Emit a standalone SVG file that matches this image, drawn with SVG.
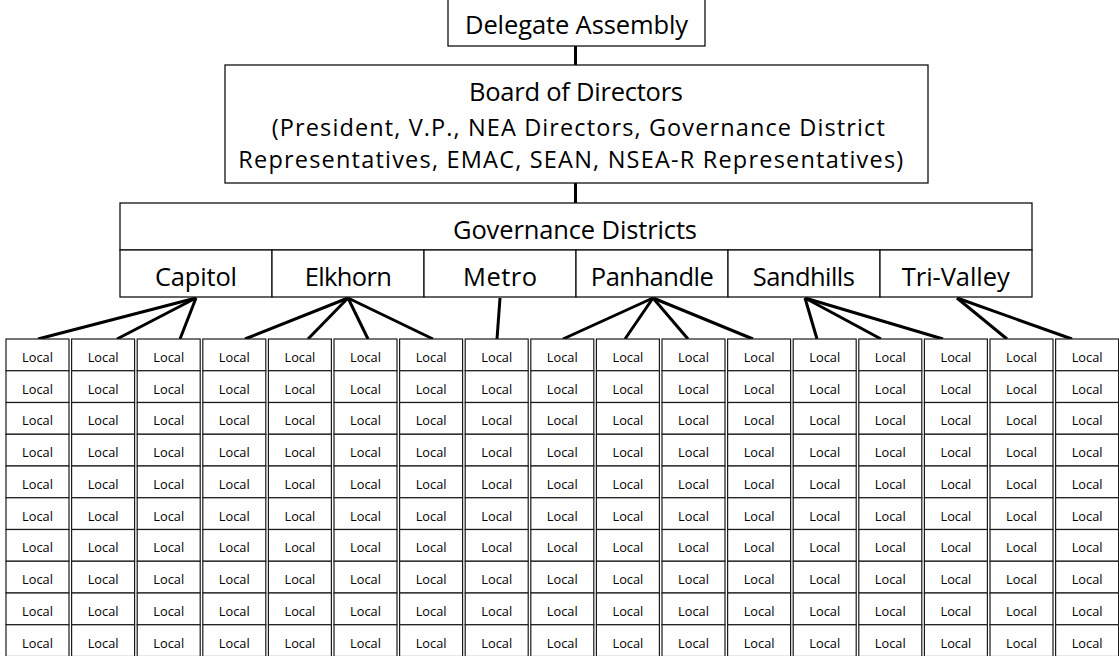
<svg xmlns="http://www.w3.org/2000/svg" width="1119" height="656" viewBox="0 0 1119 656">
  <style>
    .box { fill: #ffffff; stroke: #111111; stroke-width: 1.3; }
    .cell { fill: #ffffff; stroke: #1a1a1a; stroke-width: 1.2; }
    .head { font-family: "Open Sans", "Noto Sans", sans-serif; font-size: 25.5px; fill: #000000; text-anchor: middle; }
    .sub { font-size: 23.5px; }
    .loc { font-family: "Open Sans", "Noto Sans", sans-serif; font-size: 12.8px; fill: #000000; text-anchor: middle; }
    .link { stroke: #000000; stroke-width: 3; fill: none; stroke-linecap: butt; }
  </style>
  <rect width="1119" height="656" fill="#ffffff"/>

  <!-- connectors -->
  <g id="connectors" class="link">
    <line x1="575.5" y1="46" x2="575.5" y2="65"/>
    <line x1="575.5" y1="183" x2="575.5" y2="203"/>
    <!-- Capitol -->
    <line x1="196" y1="298" x2="38" y2="339"/>
    <line x1="196" y1="298" x2="117" y2="339"/>
    <line x1="196" y1="298" x2="180" y2="339"/>
    <!-- Elkhorn -->
    <line x1="348" y1="298" x2="245" y2="339"/>
    <line x1="348" y1="298" x2="308" y2="339"/>
    <line x1="348" y1="298" x2="368" y2="339"/>
    <line x1="348" y1="298" x2="433" y2="339"/>
    <!-- Metro -->
    <line x1="500" y1="298" x2="497" y2="339"/>
    <!-- Panhandle -->
    <line x1="653" y1="298" x2="563" y2="339"/>
    <line x1="653" y1="298" x2="625" y2="339"/>
    <line x1="653" y1="298" x2="688" y2="339"/>
    <line x1="653" y1="298" x2="753" y2="339"/>
    <!-- Sandhills -->
    <line x1="805" y1="298" x2="817" y2="339"/>
    <line x1="805" y1="298" x2="881" y2="339"/>
    <line x1="805" y1="298" x2="943" y2="339"/>
    <!-- Tri-Valley -->
    <line x1="957" y1="298" x2="1007" y2="339"/>
    <line x1="957" y1="298" x2="1072" y2="339"/>
  </g>

  <g id="delegate-assembly">
    <rect class="box" x="448" y="-2" width="257" height="48"/>
    <text class="head" x="576.5" y="33.5" textLength="223">Delegate Assembly</text>
  </g>

  <g id="board-of-directors">
    <rect class="box" x="225" y="65" width="703" height="118"/>
    <text class="head" x="576" y="101" textLength="214">Board of Directors</text>
    <text class="head sub" x="578.3" y="136" textLength="613">(President, V.P., NEA Directors, Governance District</text>
    <text class="head sub" x="570.8" y="168" textLength="665">Representatives, EMAC, SEAN, NSEA-R Representatives)</text>
  </g>

  <g id="governance-districts">
    <rect class="box" x="120" y="203" width="912" height="47"/>
    <text class="head" x="575" y="238.5" textLength="244">Governance Districts</text>
  </g>
  <g id="district-capitol">
    <rect class="box" x="120" y="250" width="152" height="47"/>
    <text class="head" x="196" y="285.7" textLength="82">Capitol</text>
  </g>
  <g id="district-elkhorn">
    <rect class="box" x="272" y="250" width="152" height="47"/>
    <text class="head" x="348.3" y="285.7" textLength="87">Elkhorn</text>
  </g>
  <g id="district-metro">
    <rect class="box" x="424" y="250" width="152" height="47"/>
    <text class="head" x="500" y="285.7" textLength="74">Metro</text>
  </g>
  <g id="district-panhandle">
    <rect class="box" x="576" y="250" width="152" height="47"/>
    <text class="head" x="652.3" y="285.7" textLength="123">Panhandle</text>
  </g>
  <g id="district-sandhills">
    <rect class="box" x="728" y="250" width="152" height="47"/>
    <text class="head" x="803.8" y="285.7" textLength="102">Sandhills</text>
  </g>
  <g id="district-tri-valley">
    <rect class="box" x="880" y="250" width="152" height="47"/>
    <text class="head" x="955.8" y="285.7" textLength="108">Tri-Valley</text>
  </g>

  <!-- columns of locals, one group per column -->
  <g id="locals-01" transform="translate(6 0)">
    <rect class="cell" x="0" y="339" width="63" height="31.75"/><text class="loc" x="31.5" y="361.8">Local</text>
    <rect class="cell" x="0" y="370.75" width="63" height="31.75"/><text class="loc" x="31.5" y="393.55">Local</text>
    <rect class="cell" x="0" y="402.5" width="63" height="31.75"/><text class="loc" x="31.5" y="425.3">Local</text>
    <rect class="cell" x="0" y="434.25" width="63" height="31.75"/><text class="loc" x="31.5" y="457.05">Local</text>
    <rect class="cell" x="0" y="466" width="63" height="31.75"/><text class="loc" x="31.5" y="488.8">Local</text>
    <rect class="cell" x="0" y="497.75" width="63" height="31.75"/><text class="loc" x="31.5" y="520.55">Local</text>
    <rect class="cell" x="0" y="529.5" width="63" height="31.75"/><text class="loc" x="31.5" y="552.3">Local</text>
    <rect class="cell" x="0" y="561.25" width="63" height="31.75"/><text class="loc" x="31.5" y="584.05">Local</text>
    <rect class="cell" x="0" y="593" width="63" height="31.75"/><text class="loc" x="31.5" y="615.8">Local</text>
    <rect class="cell" x="0" y="624.75" width="63" height="31.75"/><text class="loc" x="31.5" y="647.55">Local</text>
  </g>
  <g id="locals-02" transform="translate(71.6 0)">
    <rect class="cell" x="0" y="339" width="63" height="31.75"/><text class="loc" x="31.5" y="361.8">Local</text>
    <rect class="cell" x="0" y="370.75" width="63" height="31.75"/><text class="loc" x="31.5" y="393.55">Local</text>
    <rect class="cell" x="0" y="402.5" width="63" height="31.75"/><text class="loc" x="31.5" y="425.3">Local</text>
    <rect class="cell" x="0" y="434.25" width="63" height="31.75"/><text class="loc" x="31.5" y="457.05">Local</text>
    <rect class="cell" x="0" y="466" width="63" height="31.75"/><text class="loc" x="31.5" y="488.8">Local</text>
    <rect class="cell" x="0" y="497.75" width="63" height="31.75"/><text class="loc" x="31.5" y="520.55">Local</text>
    <rect class="cell" x="0" y="529.5" width="63" height="31.75"/><text class="loc" x="31.5" y="552.3">Local</text>
    <rect class="cell" x="0" y="561.25" width="63" height="31.75"/><text class="loc" x="31.5" y="584.05">Local</text>
    <rect class="cell" x="0" y="593" width="63" height="31.75"/><text class="loc" x="31.5" y="615.8">Local</text>
    <rect class="cell" x="0" y="624.75" width="63" height="31.75"/><text class="loc" x="31.5" y="647.55">Local</text>
  </g>
  <g id="locals-03" transform="translate(137.2 0)">
    <rect class="cell" x="0" y="339" width="63" height="31.75"/><text class="loc" x="31.5" y="361.8">Local</text>
    <rect class="cell" x="0" y="370.75" width="63" height="31.75"/><text class="loc" x="31.5" y="393.55">Local</text>
    <rect class="cell" x="0" y="402.5" width="63" height="31.75"/><text class="loc" x="31.5" y="425.3">Local</text>
    <rect class="cell" x="0" y="434.25" width="63" height="31.75"/><text class="loc" x="31.5" y="457.05">Local</text>
    <rect class="cell" x="0" y="466" width="63" height="31.75"/><text class="loc" x="31.5" y="488.8">Local</text>
    <rect class="cell" x="0" y="497.75" width="63" height="31.75"/><text class="loc" x="31.5" y="520.55">Local</text>
    <rect class="cell" x="0" y="529.5" width="63" height="31.75"/><text class="loc" x="31.5" y="552.3">Local</text>
    <rect class="cell" x="0" y="561.25" width="63" height="31.75"/><text class="loc" x="31.5" y="584.05">Local</text>
    <rect class="cell" x="0" y="593" width="63" height="31.75"/><text class="loc" x="31.5" y="615.8">Local</text>
    <rect class="cell" x="0" y="624.75" width="63" height="31.75"/><text class="loc" x="31.5" y="647.55">Local</text>
  </g>
  <g id="locals-04" transform="translate(202.8 0)">
    <rect class="cell" x="0" y="339" width="63" height="31.75"/><text class="loc" x="31.5" y="361.8">Local</text>
    <rect class="cell" x="0" y="370.75" width="63" height="31.75"/><text class="loc" x="31.5" y="393.55">Local</text>
    <rect class="cell" x="0" y="402.5" width="63" height="31.75"/><text class="loc" x="31.5" y="425.3">Local</text>
    <rect class="cell" x="0" y="434.25" width="63" height="31.75"/><text class="loc" x="31.5" y="457.05">Local</text>
    <rect class="cell" x="0" y="466" width="63" height="31.75"/><text class="loc" x="31.5" y="488.8">Local</text>
    <rect class="cell" x="0" y="497.75" width="63" height="31.75"/><text class="loc" x="31.5" y="520.55">Local</text>
    <rect class="cell" x="0" y="529.5" width="63" height="31.75"/><text class="loc" x="31.5" y="552.3">Local</text>
    <rect class="cell" x="0" y="561.25" width="63" height="31.75"/><text class="loc" x="31.5" y="584.05">Local</text>
    <rect class="cell" x="0" y="593" width="63" height="31.75"/><text class="loc" x="31.5" y="615.8">Local</text>
    <rect class="cell" x="0" y="624.75" width="63" height="31.75"/><text class="loc" x="31.5" y="647.55">Local</text>
  </g>
  <g id="locals-05" transform="translate(268.4 0)">
    <rect class="cell" x="0" y="339" width="63" height="31.75"/><text class="loc" x="31.5" y="361.8">Local</text>
    <rect class="cell" x="0" y="370.75" width="63" height="31.75"/><text class="loc" x="31.5" y="393.55">Local</text>
    <rect class="cell" x="0" y="402.5" width="63" height="31.75"/><text class="loc" x="31.5" y="425.3">Local</text>
    <rect class="cell" x="0" y="434.25" width="63" height="31.75"/><text class="loc" x="31.5" y="457.05">Local</text>
    <rect class="cell" x="0" y="466" width="63" height="31.75"/><text class="loc" x="31.5" y="488.8">Local</text>
    <rect class="cell" x="0" y="497.75" width="63" height="31.75"/><text class="loc" x="31.5" y="520.55">Local</text>
    <rect class="cell" x="0" y="529.5" width="63" height="31.75"/><text class="loc" x="31.5" y="552.3">Local</text>
    <rect class="cell" x="0" y="561.25" width="63" height="31.75"/><text class="loc" x="31.5" y="584.05">Local</text>
    <rect class="cell" x="0" y="593" width="63" height="31.75"/><text class="loc" x="31.5" y="615.8">Local</text>
    <rect class="cell" x="0" y="624.75" width="63" height="31.75"/><text class="loc" x="31.5" y="647.55">Local</text>
  </g>
  <g id="locals-06" transform="translate(334 0)">
    <rect class="cell" x="0" y="339" width="63" height="31.75"/><text class="loc" x="31.5" y="361.8">Local</text>
    <rect class="cell" x="0" y="370.75" width="63" height="31.75"/><text class="loc" x="31.5" y="393.55">Local</text>
    <rect class="cell" x="0" y="402.5" width="63" height="31.75"/><text class="loc" x="31.5" y="425.3">Local</text>
    <rect class="cell" x="0" y="434.25" width="63" height="31.75"/><text class="loc" x="31.5" y="457.05">Local</text>
    <rect class="cell" x="0" y="466" width="63" height="31.75"/><text class="loc" x="31.5" y="488.8">Local</text>
    <rect class="cell" x="0" y="497.75" width="63" height="31.75"/><text class="loc" x="31.5" y="520.55">Local</text>
    <rect class="cell" x="0" y="529.5" width="63" height="31.75"/><text class="loc" x="31.5" y="552.3">Local</text>
    <rect class="cell" x="0" y="561.25" width="63" height="31.75"/><text class="loc" x="31.5" y="584.05">Local</text>
    <rect class="cell" x="0" y="593" width="63" height="31.75"/><text class="loc" x="31.5" y="615.8">Local</text>
    <rect class="cell" x="0" y="624.75" width="63" height="31.75"/><text class="loc" x="31.5" y="647.55">Local</text>
  </g>
  <g id="locals-07" transform="translate(399.6 0)">
    <rect class="cell" x="0" y="339" width="63" height="31.75"/><text class="loc" x="31.5" y="361.8">Local</text>
    <rect class="cell" x="0" y="370.75" width="63" height="31.75"/><text class="loc" x="31.5" y="393.55">Local</text>
    <rect class="cell" x="0" y="402.5" width="63" height="31.75"/><text class="loc" x="31.5" y="425.3">Local</text>
    <rect class="cell" x="0" y="434.25" width="63" height="31.75"/><text class="loc" x="31.5" y="457.05">Local</text>
    <rect class="cell" x="0" y="466" width="63" height="31.75"/><text class="loc" x="31.5" y="488.8">Local</text>
    <rect class="cell" x="0" y="497.75" width="63" height="31.75"/><text class="loc" x="31.5" y="520.55">Local</text>
    <rect class="cell" x="0" y="529.5" width="63" height="31.75"/><text class="loc" x="31.5" y="552.3">Local</text>
    <rect class="cell" x="0" y="561.25" width="63" height="31.75"/><text class="loc" x="31.5" y="584.05">Local</text>
    <rect class="cell" x="0" y="593" width="63" height="31.75"/><text class="loc" x="31.5" y="615.8">Local</text>
    <rect class="cell" x="0" y="624.75" width="63" height="31.75"/><text class="loc" x="31.5" y="647.55">Local</text>
  </g>
  <g id="locals-08" transform="translate(465.2 0)">
    <rect class="cell" x="0" y="339" width="63" height="31.75"/><text class="loc" x="31.5" y="361.8">Local</text>
    <rect class="cell" x="0" y="370.75" width="63" height="31.75"/><text class="loc" x="31.5" y="393.55">Local</text>
    <rect class="cell" x="0" y="402.5" width="63" height="31.75"/><text class="loc" x="31.5" y="425.3">Local</text>
    <rect class="cell" x="0" y="434.25" width="63" height="31.75"/><text class="loc" x="31.5" y="457.05">Local</text>
    <rect class="cell" x="0" y="466" width="63" height="31.75"/><text class="loc" x="31.5" y="488.8">Local</text>
    <rect class="cell" x="0" y="497.75" width="63" height="31.75"/><text class="loc" x="31.5" y="520.55">Local</text>
    <rect class="cell" x="0" y="529.5" width="63" height="31.75"/><text class="loc" x="31.5" y="552.3">Local</text>
    <rect class="cell" x="0" y="561.25" width="63" height="31.75"/><text class="loc" x="31.5" y="584.05">Local</text>
    <rect class="cell" x="0" y="593" width="63" height="31.75"/><text class="loc" x="31.5" y="615.8">Local</text>
    <rect class="cell" x="0" y="624.75" width="63" height="31.75"/><text class="loc" x="31.5" y="647.55">Local</text>
  </g>
  <g id="locals-09" transform="translate(530.8 0)">
    <rect class="cell" x="0" y="339" width="63" height="31.75"/><text class="loc" x="31.5" y="361.8">Local</text>
    <rect class="cell" x="0" y="370.75" width="63" height="31.75"/><text class="loc" x="31.5" y="393.55">Local</text>
    <rect class="cell" x="0" y="402.5" width="63" height="31.75"/><text class="loc" x="31.5" y="425.3">Local</text>
    <rect class="cell" x="0" y="434.25" width="63" height="31.75"/><text class="loc" x="31.5" y="457.05">Local</text>
    <rect class="cell" x="0" y="466" width="63" height="31.75"/><text class="loc" x="31.5" y="488.8">Local</text>
    <rect class="cell" x="0" y="497.75" width="63" height="31.75"/><text class="loc" x="31.5" y="520.55">Local</text>
    <rect class="cell" x="0" y="529.5" width="63" height="31.75"/><text class="loc" x="31.5" y="552.3">Local</text>
    <rect class="cell" x="0" y="561.25" width="63" height="31.75"/><text class="loc" x="31.5" y="584.05">Local</text>
    <rect class="cell" x="0" y="593" width="63" height="31.75"/><text class="loc" x="31.5" y="615.8">Local</text>
    <rect class="cell" x="0" y="624.75" width="63" height="31.75"/><text class="loc" x="31.5" y="647.55">Local</text>
  </g>
  <g id="locals-10" transform="translate(596.4 0)">
    <rect class="cell" x="0" y="339" width="63" height="31.75"/><text class="loc" x="31.5" y="361.8">Local</text>
    <rect class="cell" x="0" y="370.75" width="63" height="31.75"/><text class="loc" x="31.5" y="393.55">Local</text>
    <rect class="cell" x="0" y="402.5" width="63" height="31.75"/><text class="loc" x="31.5" y="425.3">Local</text>
    <rect class="cell" x="0" y="434.25" width="63" height="31.75"/><text class="loc" x="31.5" y="457.05">Local</text>
    <rect class="cell" x="0" y="466" width="63" height="31.75"/><text class="loc" x="31.5" y="488.8">Local</text>
    <rect class="cell" x="0" y="497.75" width="63" height="31.75"/><text class="loc" x="31.5" y="520.55">Local</text>
    <rect class="cell" x="0" y="529.5" width="63" height="31.75"/><text class="loc" x="31.5" y="552.3">Local</text>
    <rect class="cell" x="0" y="561.25" width="63" height="31.75"/><text class="loc" x="31.5" y="584.05">Local</text>
    <rect class="cell" x="0" y="593" width="63" height="31.75"/><text class="loc" x="31.5" y="615.8">Local</text>
    <rect class="cell" x="0" y="624.75" width="63" height="31.75"/><text class="loc" x="31.5" y="647.55">Local</text>
  </g>
  <g id="locals-11" transform="translate(662 0)">
    <rect class="cell" x="0" y="339" width="63" height="31.75"/><text class="loc" x="31.5" y="361.8">Local</text>
    <rect class="cell" x="0" y="370.75" width="63" height="31.75"/><text class="loc" x="31.5" y="393.55">Local</text>
    <rect class="cell" x="0" y="402.5" width="63" height="31.75"/><text class="loc" x="31.5" y="425.3">Local</text>
    <rect class="cell" x="0" y="434.25" width="63" height="31.75"/><text class="loc" x="31.5" y="457.05">Local</text>
    <rect class="cell" x="0" y="466" width="63" height="31.75"/><text class="loc" x="31.5" y="488.8">Local</text>
    <rect class="cell" x="0" y="497.75" width="63" height="31.75"/><text class="loc" x="31.5" y="520.55">Local</text>
    <rect class="cell" x="0" y="529.5" width="63" height="31.75"/><text class="loc" x="31.5" y="552.3">Local</text>
    <rect class="cell" x="0" y="561.25" width="63" height="31.75"/><text class="loc" x="31.5" y="584.05">Local</text>
    <rect class="cell" x="0" y="593" width="63" height="31.75"/><text class="loc" x="31.5" y="615.8">Local</text>
    <rect class="cell" x="0" y="624.75" width="63" height="31.75"/><text class="loc" x="31.5" y="647.55">Local</text>
  </g>
  <g id="locals-12" transform="translate(727.6 0)">
    <rect class="cell" x="0" y="339" width="63" height="31.75"/><text class="loc" x="31.5" y="361.8">Local</text>
    <rect class="cell" x="0" y="370.75" width="63" height="31.75"/><text class="loc" x="31.5" y="393.55">Local</text>
    <rect class="cell" x="0" y="402.5" width="63" height="31.75"/><text class="loc" x="31.5" y="425.3">Local</text>
    <rect class="cell" x="0" y="434.25" width="63" height="31.75"/><text class="loc" x="31.5" y="457.05">Local</text>
    <rect class="cell" x="0" y="466" width="63" height="31.75"/><text class="loc" x="31.5" y="488.8">Local</text>
    <rect class="cell" x="0" y="497.75" width="63" height="31.75"/><text class="loc" x="31.5" y="520.55">Local</text>
    <rect class="cell" x="0" y="529.5" width="63" height="31.75"/><text class="loc" x="31.5" y="552.3">Local</text>
    <rect class="cell" x="0" y="561.25" width="63" height="31.75"/><text class="loc" x="31.5" y="584.05">Local</text>
    <rect class="cell" x="0" y="593" width="63" height="31.75"/><text class="loc" x="31.5" y="615.8">Local</text>
    <rect class="cell" x="0" y="624.75" width="63" height="31.75"/><text class="loc" x="31.5" y="647.55">Local</text>
  </g>
  <g id="locals-13" transform="translate(793.2 0)">
    <rect class="cell" x="0" y="339" width="63" height="31.75"/><text class="loc" x="31.5" y="361.8">Local</text>
    <rect class="cell" x="0" y="370.75" width="63" height="31.75"/><text class="loc" x="31.5" y="393.55">Local</text>
    <rect class="cell" x="0" y="402.5" width="63" height="31.75"/><text class="loc" x="31.5" y="425.3">Local</text>
    <rect class="cell" x="0" y="434.25" width="63" height="31.75"/><text class="loc" x="31.5" y="457.05">Local</text>
    <rect class="cell" x="0" y="466" width="63" height="31.75"/><text class="loc" x="31.5" y="488.8">Local</text>
    <rect class="cell" x="0" y="497.75" width="63" height="31.75"/><text class="loc" x="31.5" y="520.55">Local</text>
    <rect class="cell" x="0" y="529.5" width="63" height="31.75"/><text class="loc" x="31.5" y="552.3">Local</text>
    <rect class="cell" x="0" y="561.25" width="63" height="31.75"/><text class="loc" x="31.5" y="584.05">Local</text>
    <rect class="cell" x="0" y="593" width="63" height="31.75"/><text class="loc" x="31.5" y="615.8">Local</text>
    <rect class="cell" x="0" y="624.75" width="63" height="31.75"/><text class="loc" x="31.5" y="647.55">Local</text>
  </g>
  <g id="locals-14" transform="translate(858.8 0)">
    <rect class="cell" x="0" y="339" width="63" height="31.75"/><text class="loc" x="31.5" y="361.8">Local</text>
    <rect class="cell" x="0" y="370.75" width="63" height="31.75"/><text class="loc" x="31.5" y="393.55">Local</text>
    <rect class="cell" x="0" y="402.5" width="63" height="31.75"/><text class="loc" x="31.5" y="425.3">Local</text>
    <rect class="cell" x="0" y="434.25" width="63" height="31.75"/><text class="loc" x="31.5" y="457.05">Local</text>
    <rect class="cell" x="0" y="466" width="63" height="31.75"/><text class="loc" x="31.5" y="488.8">Local</text>
    <rect class="cell" x="0" y="497.75" width="63" height="31.75"/><text class="loc" x="31.5" y="520.55">Local</text>
    <rect class="cell" x="0" y="529.5" width="63" height="31.75"/><text class="loc" x="31.5" y="552.3">Local</text>
    <rect class="cell" x="0" y="561.25" width="63" height="31.75"/><text class="loc" x="31.5" y="584.05">Local</text>
    <rect class="cell" x="0" y="593" width="63" height="31.75"/><text class="loc" x="31.5" y="615.8">Local</text>
    <rect class="cell" x="0" y="624.75" width="63" height="31.75"/><text class="loc" x="31.5" y="647.55">Local</text>
  </g>
  <g id="locals-15" transform="translate(924.4 0)">
    <rect class="cell" x="0" y="339" width="63" height="31.75"/><text class="loc" x="31.5" y="361.8">Local</text>
    <rect class="cell" x="0" y="370.75" width="63" height="31.75"/><text class="loc" x="31.5" y="393.55">Local</text>
    <rect class="cell" x="0" y="402.5" width="63" height="31.75"/><text class="loc" x="31.5" y="425.3">Local</text>
    <rect class="cell" x="0" y="434.25" width="63" height="31.75"/><text class="loc" x="31.5" y="457.05">Local</text>
    <rect class="cell" x="0" y="466" width="63" height="31.75"/><text class="loc" x="31.5" y="488.8">Local</text>
    <rect class="cell" x="0" y="497.75" width="63" height="31.75"/><text class="loc" x="31.5" y="520.55">Local</text>
    <rect class="cell" x="0" y="529.5" width="63" height="31.75"/><text class="loc" x="31.5" y="552.3">Local</text>
    <rect class="cell" x="0" y="561.25" width="63" height="31.75"/><text class="loc" x="31.5" y="584.05">Local</text>
    <rect class="cell" x="0" y="593" width="63" height="31.75"/><text class="loc" x="31.5" y="615.8">Local</text>
    <rect class="cell" x="0" y="624.75" width="63" height="31.75"/><text class="loc" x="31.5" y="647.55">Local</text>
  </g>
  <g id="locals-16" transform="translate(990 0)">
    <rect class="cell" x="0" y="339" width="63" height="31.75"/><text class="loc" x="31.5" y="361.8">Local</text>
    <rect class="cell" x="0" y="370.75" width="63" height="31.75"/><text class="loc" x="31.5" y="393.55">Local</text>
    <rect class="cell" x="0" y="402.5" width="63" height="31.75"/><text class="loc" x="31.5" y="425.3">Local</text>
    <rect class="cell" x="0" y="434.25" width="63" height="31.75"/><text class="loc" x="31.5" y="457.05">Local</text>
    <rect class="cell" x="0" y="466" width="63" height="31.75"/><text class="loc" x="31.5" y="488.8">Local</text>
    <rect class="cell" x="0" y="497.75" width="63" height="31.75"/><text class="loc" x="31.5" y="520.55">Local</text>
    <rect class="cell" x="0" y="529.5" width="63" height="31.75"/><text class="loc" x="31.5" y="552.3">Local</text>
    <rect class="cell" x="0" y="561.25" width="63" height="31.75"/><text class="loc" x="31.5" y="584.05">Local</text>
    <rect class="cell" x="0" y="593" width="63" height="31.75"/><text class="loc" x="31.5" y="615.8">Local</text>
    <rect class="cell" x="0" y="624.75" width="63" height="31.75"/><text class="loc" x="31.5" y="647.55">Local</text>
  </g>
  <g id="locals-17" transform="translate(1055.6 0)">
    <rect class="cell" x="0" y="339" width="63" height="31.75"/><text class="loc" x="31.5" y="361.8">Local</text>
    <rect class="cell" x="0" y="370.75" width="63" height="31.75"/><text class="loc" x="31.5" y="393.55">Local</text>
    <rect class="cell" x="0" y="402.5" width="63" height="31.75"/><text class="loc" x="31.5" y="425.3">Local</text>
    <rect class="cell" x="0" y="434.25" width="63" height="31.75"/><text class="loc" x="31.5" y="457.05">Local</text>
    <rect class="cell" x="0" y="466" width="63" height="31.75"/><text class="loc" x="31.5" y="488.8">Local</text>
    <rect class="cell" x="0" y="497.75" width="63" height="31.75"/><text class="loc" x="31.5" y="520.55">Local</text>
    <rect class="cell" x="0" y="529.5" width="63" height="31.75"/><text class="loc" x="31.5" y="552.3">Local</text>
    <rect class="cell" x="0" y="561.25" width="63" height="31.75"/><text class="loc" x="31.5" y="584.05">Local</text>
    <rect class="cell" x="0" y="593" width="63" height="31.75"/><text class="loc" x="31.5" y="615.8">Local</text>
    <rect class="cell" x="0" y="624.75" width="63" height="31.75"/><text class="loc" x="31.5" y="647.55">Local</text>
  </g>
</svg>
